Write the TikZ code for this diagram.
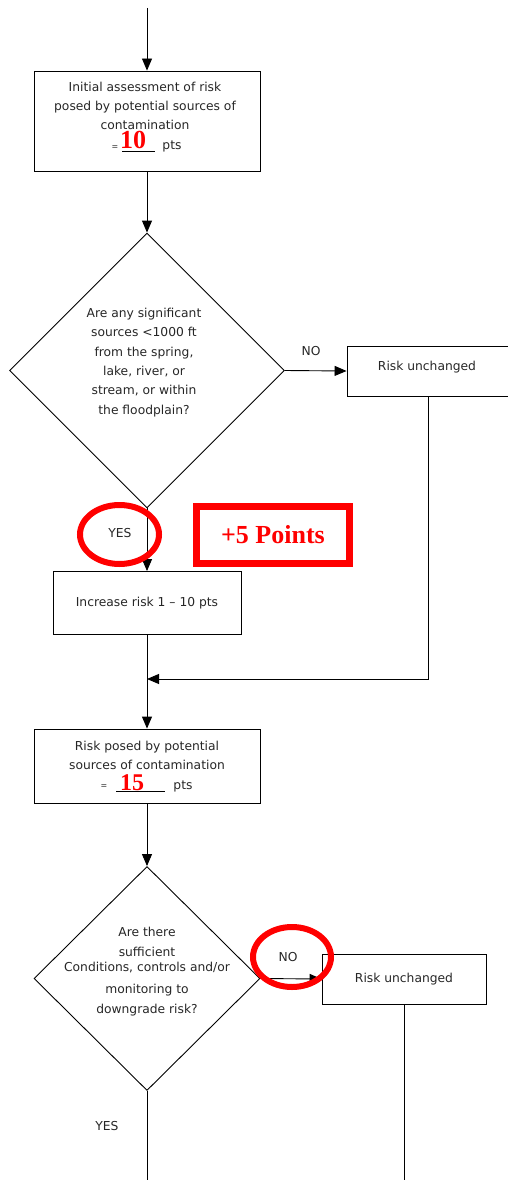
\documentclass[tikz,border=0pt]{standalone}
\usepackage{fontspec}
\setmainfont{DejaVu Sans}
\newfontfamily\tnr{Liberation Serif}
\usetikzlibrary{arrows.meta,shapes.geometric}
\begin{document}
\begin{tikzpicture}[x=1pt,y=-1pt,
  line width=0.9pt,
  >={Triangle[length=12pt,width=10pt]},
  txt/.style={align=center,inner sep=0pt,text=black!85,font=\fontsize{12.3}{19.3}\selectfont},
  box/.style={draw,rectangle,inner sep=0pt,align=center,text=black!85,font=\fontsize{12.3}{19}\selectfont},
  dia/.style={draw,diamond,inner sep=0pt,aspect=1},
  smalleq/.style={inner sep=0pt,font=\fontsize{8}{8}\selectfont,text=black!85},
  num/.style={inner sep=0pt,text=red,font=\tnr\bfseries\fontsize{#1}{#1}\selectfont},
  ring/.style={draw=red,line width=6pt,ellipse,inner sep=0pt},
  redbox/.style={draw=red,line width=7pt,rectangle,inner sep=0pt,text=red,font=\tnr\bfseries\fontsize{26}{26}\selectfont}
]
\useasboundingbox (0,0) rectangle (508,1180);

% first box
\coordinate (start) at (147,8);
\node[box,minimum width=226pt,minimum height=100pt] (b1) at (147,121) {};
\node[txt] (t1) at (145,106) {Initial assessment of risk\\posed by potential sources of\\contamination};
\node[smalleq] (eq1) at (115,148) {=};
\coordinate (u1a) at (122,151);
\coordinate (u1b) at (155,151);
\draw[line width=0.6pt] (u1a) -- (u1b);
\node[num=26] (n10) at (133,140) {10};
\node[txt] (p1) at (172,146) {pts};
\draw[->] (start) -- (b1.north);

% first decision
\node[dia,minimum width=275pt,minimum height=275pt] (d1) at (147,370.5) {};
\node[txt] (t2) at (144,362.5) {Are any significant\\sources <1000 ft\\from the spring,\\lake, river, or\\stream, or within\\the floodplain?};
\draw[->] (b1.south) -- (d1.north);

\node[box,minimum width=163pt,minimum height=50pt] (b2) at (428.5,371) {};
\node[txt] (t3) at (427,367) {Risk unchanged};
\draw[->] (d1.east) -- (b2.west);
\node[txt] (no1) at (311,351) {NO};

% yes branch
\node[box,minimum width=188pt,minimum height=63pt] (b3) at (147,603) {Increase risk 1 -- 10 pts};
\draw[->] (d1.south) -- (b3.north);
\node[ring,minimum width=79pt,minimum height=59pt] (c1) at (119.5,534.5) {};
\node[txt] (yes1) at (120,533) {YES};
\node[redbox,minimum width=153pt,minimum height=57pt] (pts5) at (273,535) {+5 Points};

% merge
\coordinate (m) at (147,679);
\draw[->] (b2.south) |- (m);

% second box
\node[box,minimum width=226pt,minimum height=74pt] (b4) at (147,766) {};
\draw[->] (b3.south) -- (b4.north);
\node[txt] (t4) at (147,755.5) {Risk posed by potential\\sources of contamination};
\node[smalleq] (eq2) at (104,787) {=};
\coordinate (u2a) at (116,791);
\coordinate (u2b) at (165,791);
\draw[line width=0.6pt] (u2a) -- (u2b);
\node[num=24] (n15) at (132,783) {15};
\node[txt] (p2) at (183,786) {pts};

% second decision
\node[dia,minimum width=226pt,minimum height=224pt] (d2) at (147,978.5) {};
\draw[->] (b4.south) -- (d2.north);
\node[txt] (t5) at (147,971.5) {Are there\\sufficient\\[-4pt]Conditions, controls and/or\\[3pt]monitoring to\\downgrade risk?};

\node[box,minimum width=164pt,minimum height=50pt] (b5) at (404,979) {Risk unchanged};
\draw[->] (d2.east) -- (b5.west);
\node[ring,minimum width=78pt,minimum height=60pt] (c2) at (292,957) {};
\node[txt] (no2) at (288,957) {NO};

\coordinate (e1) at (147,1181);
\coordinate (e2) at (404,1181);
\draw (d2.south) -- (e1);
\draw (b5.south) -- (e2);
\node[txt] (yes2) at (107,1126) {YES};
\end{tikzpicture}
\end{document}
